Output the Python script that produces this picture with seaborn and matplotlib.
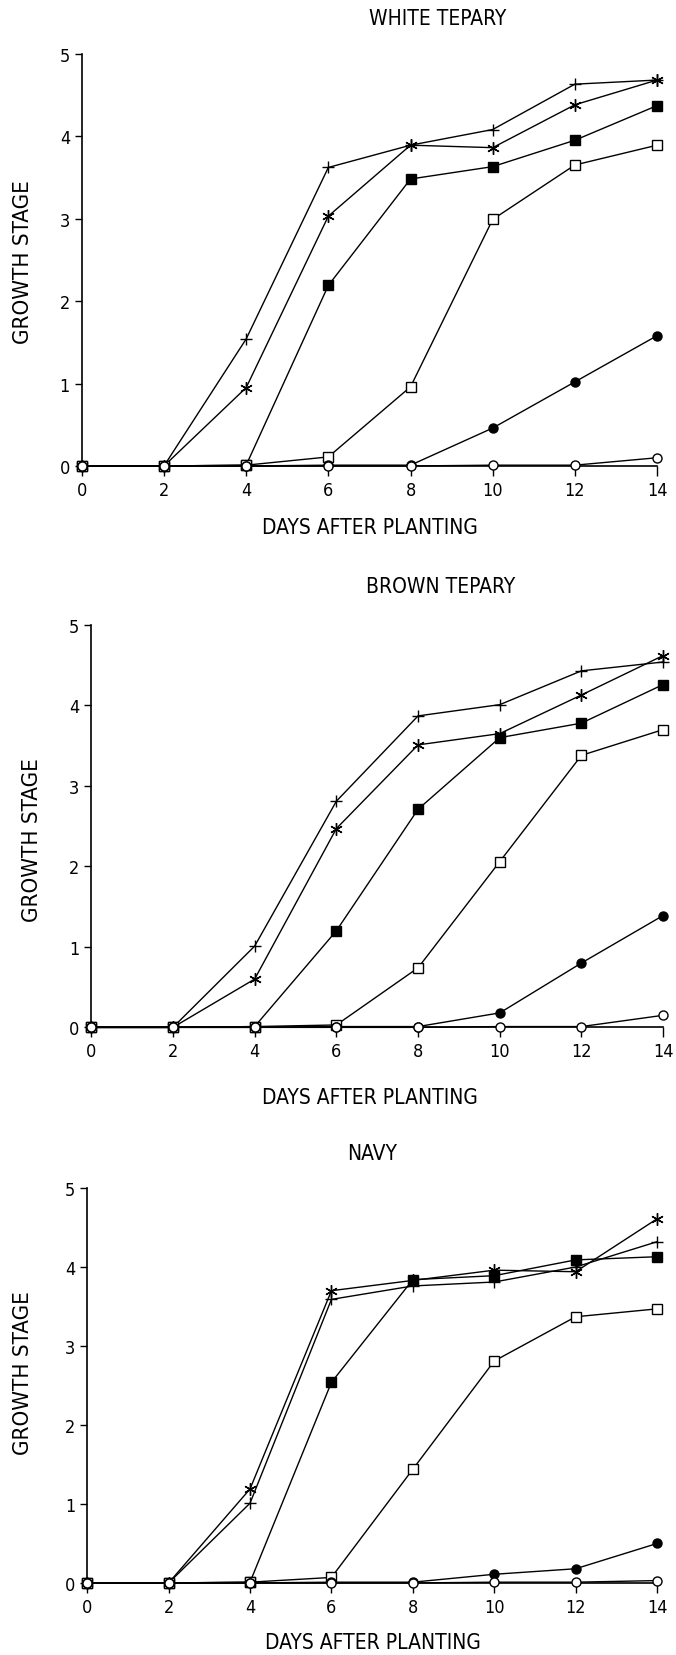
import pandas as pd
import seaborn as sns
import matplotlib.pyplot as plt

# dni po vysadeni
days = [0, 2, 4, 6, 8, 10, 12, 14]

# WHITE TEPARY
white_plus = [0, 0, 1.54, 3.62, 3.89, 4.08, 4.63, 4.68]
white_star = [0, 0, 0.95, 3.03, 3.89, 3.86, 4.38, 4.68]
white_fsq = [0, 0, 0.01, 2.19, 3.48, 3.63, 3.95, 4.37]
white_osq = [0, 0, 0.01, 0.11, 0.96, 2.99, 3.65, 3.89]
white_fci = [0, 0, 0, 0.01, 0.01, 0.46, 1.02, 1.58]
white_oci = [0, 0, 0, 0, 0, 0.01, 0.01, 0.10]

# BROWN TEPARY
brown_plus = [0, 0, 1.01, 2.81, 3.87, 4.01, 4.43, 4.54]
brown_star = [0, 0, 0.60, 2.47, 3.51, 3.65, 4.13, 4.62]
brown_fsq = [0, 0, 0.01, 1.20, 2.71, 3.60, 3.78, 4.26]
brown_osq = [0, 0, 0.01, 0.03, 0.74, 2.06, 3.38, 3.70]
brown_fci = [0, 0, 0, 0.01, 0.01, 0.18, 0.80, 1.39]
brown_oci = [0, 0, 0, 0, 0, 0.01, 0.01, 0.15]

# NAVY
navy_plus = [0, 0, 1.01, 3.59, 3.76, 3.81, 4.00, 4.32]
navy_star = [0, 0, 1.19, 3.70, 3.83, 3.96, 3.94, 4.61]
navy_fsq = [0, 0, 0.01, 2.54, 3.84, 3.89, 4.09, 4.13]
navy_osq = [0, 0, 0.01, 0.07, 1.44, 2.81, 3.37, 3.47]
navy_fci = [0, 0, 0, 0.01, 0.01, 0.11, 0.18, 0.50]
navy_oci = [0, 0, 0, 0, 0, 0.01, 0.01, 0.03]

panel_titles = ['WHITE TEPARY', 'BROWN TEPARY', 'NAVY']
panel_data = [
    [white_plus, white_star, white_fsq, white_osq, white_fci, white_oci],
    [brown_plus, brown_star, brown_fsq, brown_osq, brown_fci, brown_oci],
    [navy_plus, navy_star, navy_fsq, navy_osq, navy_fci, navy_oci],
]

# marker, velkost, vyplnena?
markers = [('+', 8, True), ((6, 2, 0), 9, True), ('s', 6.5, True),
           ('s', 6.5, False), ('o', 6.5, True), ('o', 6.5, False)]

sns.set_style('ticks')
plt.rcParams['font.family'] = ['DejaVu Sans']
plt.rcParams['font.stretch'] = 'condensed'
plt.rcParams['text.color'] = 'black'
plt.rcParams['xtick.color'] = 'black'
plt.rcParams['ytick.color'] = 'black'

fig = plt.figure(figsize=(6.76, 16.56), dpi=100)

# pozicie panelov (left, bottom, width, height)
boxes = [[0.121, 0.718, 0.851, 0.249],
         [0.135, 0.379, 0.846, 0.243],
         [0.129, 0.0435, 0.843, 0.2385]]
title_pos = [(0.648, 0.9885), (0.652, 0.6455), (0.550, 0.303)]
xlab_pos = [(0.547, 0.681), (0.547, 0.337), (0.552, 0.008)]
ylab_pos = [(0.034, 0.842), (0.047, 0.493), (0.034, 0.171)]

for i in range(3):
    ax = fig.add_axes(boxes[i])
    for vals, (m, ms, filled) in zip(panel_data[i], markers):
        df = pd.DataFrame({'day': days, 'stage': vals})
        sns.lineplot(data=df, x='day', y='stage', ax=ax, color='black',
                     linewidth=1.0, marker=m, markersize=ms,
                     markerfacecolor='black' if filled else 'white',
                     markeredgecolor='black', markeredgewidth=1.0,
                     clip_on=False, zorder=3)
    ax.set_xlim(0, 14)
    ax.set_ylim(0, 5)
    ax.set_xticks(days)
    ax.set_yticks([0, 1, 2, 3, 4, 5])
    ax.set_xlabel('')
    ax.set_ylabel('')
    ax.tick_params(labelsize=13, length=7, width=1.0, colors='black')
    ax.tick_params(axis='y', length=5)
    sns.despine(ax=ax)
    for s in ['left', 'bottom']:
        ax.spines[s].set_linewidth(1.2)
        ax.spines[s].set_color('black')
    fig.text(*title_pos[i], panel_titles[i], ha='center', va='center', fontsize=15)
    fig.text(*xlab_pos[i], 'DAYS AFTER PLANTING', ha='center', va='center', fontsize=15)
    fig.text(*ylab_pos[i], 'GROWTH STAGE', ha='center', va='center',
             rotation=90, fontsize=16)

fig.savefig('out.png', dpi=100)
